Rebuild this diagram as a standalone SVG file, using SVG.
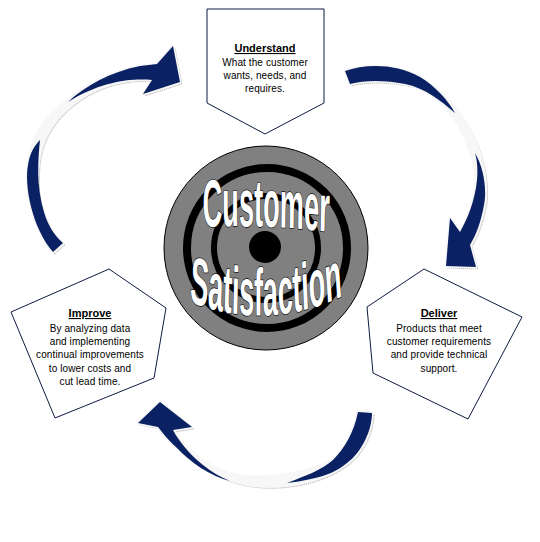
<svg xmlns="http://www.w3.org/2000/svg" width="540" height="542" viewBox="0 0 540 542">
<style>
.pent{fill:#fff;stroke:#0d1b40;stroke-width:1}
.t{font-family:"Liberation Sans",Arial,sans-serif;font-size:10px;fill:#000;text-anchor:middle;letter-spacing:0.1px}
.h{font-family:"Liberation Sans",Arial,sans-serif;font-size:11px;font-weight:bold;fill:#000;text-anchor:middle;text-decoration:underline}
.navy{fill:#0a2263}
.band{fill:#f7f7f7;stroke:#f7f7f7;stroke-width:3;stroke-linejoin:round}
.shad{fill:#ededed;stroke:#a0a0a0;stroke-width:0.8;stroke-dasharray:1 1}
.big{font-family:"Liberation Sans",Arial,sans-serif;font-weight:bold;font-size:67px;fill:#fff;stroke:#000;stroke-width:1.4;paint-order:stroke;vector-effect:non-scaling-stroke}
</style>
<defs>
<path id="b1" d="M 53,252 C 32,228 24,185 28,165 C 30,140 45,115 68,100 C 85,86 110,72 140,66 L 157,64 L 173,46 L 180,82 L 143,94 L 152,80 C 130,78 100,82 72,104 C 52,120 40,140 38,165 C 36,185 38,205 44,214 C 48,226 55,236 63,243 Z"/>
<path id="b2" d="M 345,71 C 365,64 395,63 420,77 C 445,92 470,120 480,155 C 486,175 487,195 484,207 C 481,222 476,235 470,245 L 476,267 L 446,266 L 450,218 L 460,232 C 468,218 475,200 476,180 C 475,160 465,130 448,110 C 435,96 420,86 405,84 C 385,80 365,80 350,84 Z"/>
<path id="b3" d="M 372,413 C 372,430 362,452 347,463 C 325,480 290,488 260,486 C 230,484 200,470 177,448 C 168,440 162,432 158,427 L 138,423 L 160,402 L 192,427 L 173,430 C 185,450 210,470 240,476 C 270,480 310,472 333,460 C 345,448 354,432 358,412 Z"/>
<path id="arcTop" d="M -220,229 Q 0,221 220,236"/>
<path id="arcBot" d="M -210,298 Q 0,336 210,292"/>
</defs>

<g id="connectors">
  <g id="arrow-understand-deliver">
    <use href="#b2" class="shad" transform="translate(2,2)"/>
    <use href="#b2" class="band"/>
    <path class="navy" d="M 345,71 C 365,64 395,63 420,77 C 435,86 448,100 455,113 C 440,100 425,88 405,84 C 385,80 365,80 350,84 Z"/>
    <path class="navy" d="M 475,153 C 484,168 487,190 484,205 C 481,222 476,235 470,245 L 476,267 L 446,266 L 450,218 L 460,232 C 468,218 475,200 477,180 C 478,168 477,160 475,153 Z"/>
  </g>
  <g id="arrow-deliver-improve">
    <use href="#b3" class="shad" transform="translate(2,2)"/>
    <use href="#b3" class="band"/>
    <path class="navy" d="M 372,413 C 372,430 362,452 347,463 C 335,473 320,479 287,483 C 305,476 322,470 333,460 C 345,448 354,432 358,412 Z"/>
    <path class="navy" d="M 230,481 C 210,476 190,462 177,448 C 168,440 162,432 158,427 L 138,423 L 160,402 L 192,427 L 173,430 C 178,440 190,455 203,465 C 212,472 220,477 230,481 Z"/>
  </g>
  <g id="arrow-improve-understand">
    <use href="#b1" class="shad" transform="translate(2,2)"/>
    <use href="#b1" class="band"/>
    <path class="navy" d="M 53,252 C 32,228 24,185 28,165 C 30,152 35,145 40,140 C 38,160 36,185 44,212 C 48,226 55,236 63,243 Z"/>
    <path class="navy" d="M 68,102 C 85,86 110,72 140,66 L 157,64 L 173,46 L 180,82 L 143,94 L 152,80 C 130,78 100,82 68,102 Z"/>
  </g>
</g>

<g id="center">
  <circle cx="266" cy="248" r="102" fill="#808080" stroke="#000" stroke-width="1"/>
  <circle cx="267" cy="248" r="80" fill="none" stroke="#000" stroke-width="8"/>
  <circle cx="266" cy="248" r="52" fill="none" stroke="#000" stroke-width="6"/>
  <circle cx="265" cy="247" r="16" fill="#000"/>
  <g transform="translate(266,0) scale(0.405,1)">
    <text class="big"><textPath href="#arcTop" startOffset="50%" text-anchor="middle">Customer</textPath></text>
    <text class="big"><textPath href="#arcBot" startOffset="50%" text-anchor="middle">Satisfaction</textPath></text>
  </g>
</g>

<g id="understand">
  <polygon class="pent" points="207,9 324,9 324,103 265,134 207,103"/>
  <text class="h" x="265" y="52">Understand</text>
  <text class="t" x="265" y="65.5">What the customer</text>
  <text class="t" x="265" y="78.5">wants, needs, and</text>
  <text class="t" x="265" y="91.5">requires.</text>
</g>

<g id="deliver">
  <polygon class="pent" points="424,269 522,317 468,419 373,373 367,307"/>
  <text class="h" x="439" y="317">Deliver</text>
  <text class="t" x="439" y="331.5">Products that meet</text>
  <text class="t" x="439" y="344.5">customer requirements</text>
  <text class="t" x="439" y="357.5">and provide technical</text>
  <text class="t" x="439" y="371.5">support.</text>
</g>

<g id="improve">
  <polygon class="pent" points="109,269 166,308 154,378 55,418 11,312"/>
  <text class="h" x="90" y="317">Improve</text>
  <text class="t" x="90" y="331.5">By analyzing data</text>
  <text class="t" x="90" y="344.5">and implementing</text>
  <text class="t" x="90" y="357.5">continual improvements</text>
  <text class="t" x="90" y="371.5">to lower costs and</text>
  <text class="t" x="90" y="384.5">cut lead time.</text>
</g>
</svg>
